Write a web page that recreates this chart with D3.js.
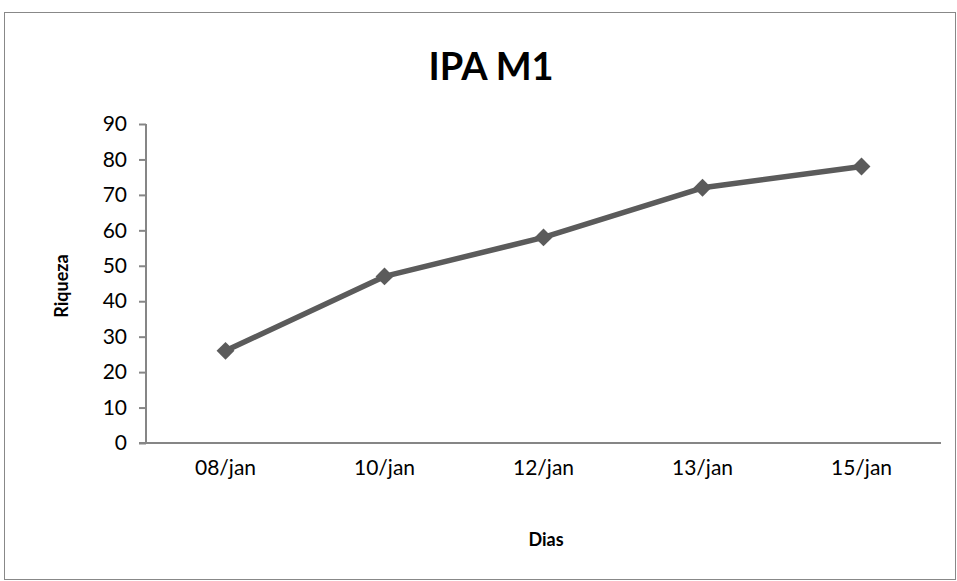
<!DOCTYPE html>
<html>
<head>
  <meta charset="utf-8">
  <title>IPA M1</title>
  <script src="https://cdn.jsdelivr.net/npm/d3@7"></script>
  <style>
    body { margin: 0; background: #fff; }
    text { font-family: Lato, "Open Sans", sans-serif; }
  </style>
</head>
<body>
<script>
  // dados do gráfico
  const dias = ["08/jan", "10/jan", "12/jan", "13/jan", "15/jan"];
  const riqueza = [26, 47, 58, 72, 78];
  const yTicks = [0, 10, 20, 30, 40, 50, 60, 70, 80, 90];

  const W = 957, H = 581;
  const plotLeft = 146, plotRight = 941, plotTop = 124, plotBottom = 443;

  const svg = d3.select("body").append("svg")
    .attr("width", W)
    .attr("height", H);

  // borda do gráfico
  svg.append("rect")
    .attr("x", 4.5).attr("y", 12.5)
    .attr("width", 951).attr("height", 567)
    .attr("fill", "none")
    .attr("stroke", "#888")
    .attr("stroke-width", 1);

  const x = d3.scaleBand().domain(dias).range([plotLeft, plotRight]);
  const y = d3.scaleLinear().domain([0, 90]).range([plotBottom, plotTop]);

  // eixo y
  const yAxis = svg.append("g")
    .attr("transform", "translate(" + plotLeft + ",0)")
    .call(d3.axisLeft(y).tickValues(yTicks).tickSize(7).tickPadding(12));
  yAxis.selectAll("text").attr("font-size", "21px").attr("fill", "#000");

  // eixo x
  const xAxis = svg.append("g")
    .attr("transform", "translate(0," + plotBottom + ")")
    .call(d3.axisBottom(x).tickSize(0).tickPadding(17));
  xAxis.selectAll("text").attr("font-size", "21px").attr("fill", "#000");

  svg.selectAll(".domain, .tick line")
    .attr("stroke", "#868686")
    .attr("stroke-width", 2);
  yAxis.select(".domain").attr("d", "M-7," + plotBottom + "H0V" + plotTop);
  xAxis.select(".domain").attr("d", "M" + (plotLeft - 7) + ",0H" + plotRight);

  // linha
  const line = d3.line()
    .x((d, i) => x(dias[i]) + x.bandwidth() / 2)
    .y(d => y(d));

  svg.append("path")
    .datum(riqueza)
    .attr("d", line)
    .attr("fill", "none")
    .attr("stroke", "#5b5b5b")
    .attr("stroke-width", 5.5)
    .attr("stroke-linejoin", "round");

  svg.selectAll(".marker")
    .data(riqueza)
    .enter()
    .append("path")
    .attr("class", "marker")
    .attr("d", d3.symbol(d3.symbolSquare, 160))
    .attr("transform", (d, i) => "translate(" + (x(dias[i]) + x.bandwidth() / 2) + "," + y(d) + ") rotate(45)")
    .attr("fill", "#5b5b5b");

  // títulos
  svg.append("text")
    .attr("x", 491).attr("y", 80)
    .attr("text-anchor", "middle")
    .attr("font-size", "38px")
    .attr("font-weight", "bold")
    .text("IPA M1");

  svg.append("text")
    .attr("x", 546).attr("y", 546)
    .attr("text-anchor", "middle")
    .attr("font-size", "18px")
    .attr("font-weight", "bold")
    .text("Dias");

  svg.append("text")
    .attr("transform", "translate(68,286) rotate(-90)")
    .attr("text-anchor", "middle")
    .attr("font-size", "18px")
    .attr("font-weight", "bold")
    .text("Riqueza");
</script>
</body>
</html>
